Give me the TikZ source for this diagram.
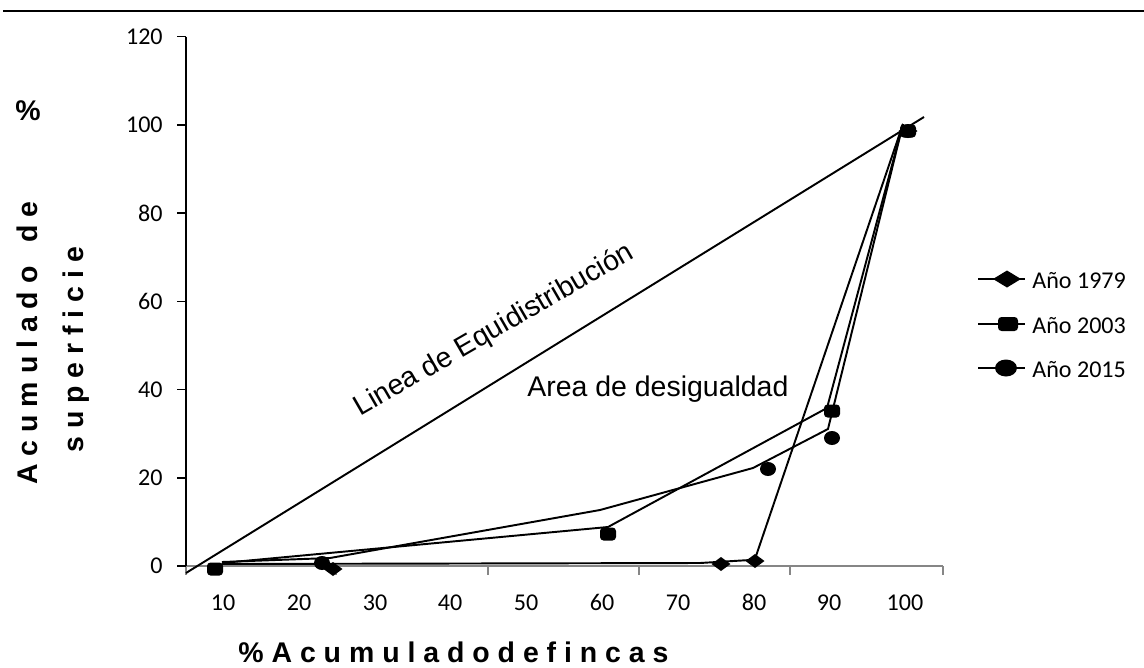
\documentclass[tikz,border=0pt]{standalone}
\usepackage{fontspec}
\setmainfont{Liberation Sans}[BoldFont={Liberation Sans Bold}]
\newfontfamily\calibri{Carlito}
\usepackage{tikz}
\usetikzlibrary{calc}

\tikzset{
  serie/.style={line width=1.1pt},
  eje/.style={line width=0.85pt},
  num/.style={inner sep=0pt,font=\calibri\fontsize{13.7}{16}\selectfont},
  rotulo/.style={inner sep=0pt,font=\bfseries\fontsize{16.2}{19}\selectfont},
  texto/.style={inner sep=0pt,font=\fontsize{16.2}{19}\selectfont},
}
\newcommand{\rombo}[1]{\fill #1 +(-9.5,0) -- +(0,-7) -- +(9.5,0) -- +(0,7) -- cycle;}
\newcommand{\cuadro}[1]{\fill[rounded corners=2pt] #1 +(-8,-6.5) rectangle +(8,6.5);}
\newcommand{\punto}[1]{\fill #1 ellipse (8 and 7);}

\begin{document}
\begin{tikzpicture}[x=0.02cm,y=-0.02cm]
\definecolor{grey}{RGB}{134,134,134}
\useasboundingbox (0,0) rectangle (1144,667);
\draw[line width=1.4pt] (3,11) -- (1144,11);
% ejes
\draw[grey,eje] (186,566) -- (943,566);
\draw[grey,eje] (186,566) -- (186,575);
\draw[grey,eje] (336,566) -- (336,575);
\draw[grey,eje] (488,566) -- (488,575);
\draw[grey,eje] (639,566) -- (639,575);
\draw[grey,eje] (790,566) -- (790,575);
\draw[grey,eje] (943,566) -- (943,575);
\draw[eje] (186,36.5) -- (186,566);
\draw[eje] (177,566) -- (186,566);
\draw[eje] (177,477.75) -- (186,477.75);
\draw[eje] (177,389.5) -- (186,389.5);
\draw[eje] (177,301.25) -- (186,301.25);
\draw[eje] (177,213) -- (186,213);
\draw[eje] (177,124.75) -- (186,124.75);
\draw[eje] (177,36.5) -- (186,36.5);
\node[num,anchor=east] (y0) at (163,566) {0};
\node[num,anchor=east] (y20) at (163,477.75) {20};
\node[num,anchor=east] (y40) at (163,389.5) {40};
\node[num,anchor=east] (y60) at (163,301.25) {60};
\node[num,anchor=east] (y80) at (163,213) {80};
\node[num,anchor=east] (y100) at (163,124.75) {100};
\node[num,anchor=east] (y120) at (163,36.5) {120};
\node[num,anchor=base] (x10) at (223,610) {10};
\node[num,anchor=base] (x20) at (299,610) {20};
\node[num,anchor=base] (x30) at (375,610) {30};
\node[num,anchor=base] (x40) at (450,610) {40};
\node[num,anchor=base] (x50) at (526,610) {50};
\node[num,anchor=base] (x60) at (602,610) {60};
\node[num,anchor=base] (x70) at (678,610) {70};
\node[num,anchor=base] (x80) at (754,610) {80};
\node[num,anchor=base] (x90) at (829,610) {90};
\node[num,anchor=base] (x100) at (905,610) {100};
% lineas
\draw[serie] (186,573) -- (924,117);
\draw[serie] (222,564) -- (700,563) -- (750,560) -- (756,556) -- (903,124);
\draw[serie] (222,563) -- (608,527) -- (827,408) -- (903,124);
\draw[serie] (222,562) -- (330,558) -- (600,510) -- (753,468) -- (828,429) -- (903,124);
% marcas
\rombo{(333,569)}
\rombo{(721,564)}
\rombo{(755,561)}
\rombo{(908,131)}
\punto{(322,563)}
\punto{(768,469)}
\punto{(832,438)}
\punto{(908,131)}
\cuadro{(215,569)}
\cuadro{(608,534)}
\cuadro{(832,411)}
\cuadro{(908,131)}
% leyenda
\draw[serie] (978,279) -- (1025,279);
\draw[serie] (978,324) -- (1025,324);
\draw[serie] (978,368) -- (1025,368);
\fill (1007,279) +(-14,0) -- +(0,-8.5) -- +(14,0) -- +(0,8.5) -- cycle;
\fill[rounded corners=2pt] (1008,324) +(-10,-7) rectangle +(10,7);
\fill (1006,368) ellipse (11 and 8.5);
\node[num,anchor=base west] (ley1) at (1032,288) {Año 1979};
\node[num,anchor=base west] (ley2) at (1032,333) {Año 2003};
\node[num,anchor=base west] (ley3) at (1032,377) {Año 2015};
% textos
\node[texto,rotate=30,anchor=base west] (equi) at (360,417) {Linea de Equidistribución};
\node[texto,anchor=base west] (area) at (527,396) {Area de desigualdad};
\node[rotulo,anchor=base west] (pct) at (15,120) {\%};
\node[rotulo,rotate=90,anchor=base west] (ejey1) at (37,485) {A c u m u l a d o\ \ \ d e};
\node[rotulo,rotate=90,anchor=base west] (ejey2) at (83,453) {s u p e r f i c i e};
\node[rotulo,anchor=base west] (ejex) at (238,662) {\% A c u m u l a d o d e f i n c a s};
\end{tikzpicture}
\end{document}
